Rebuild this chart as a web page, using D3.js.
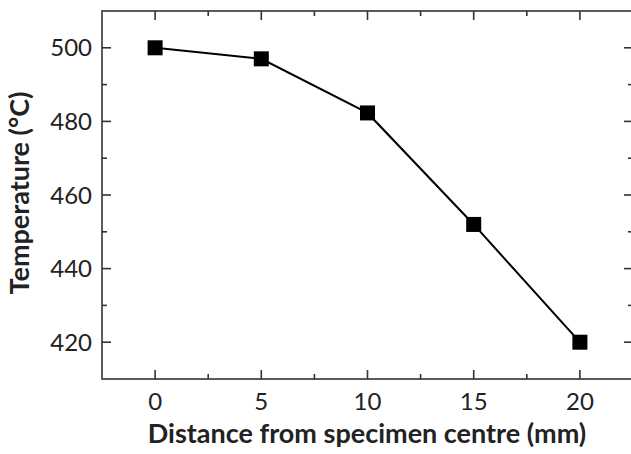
<!DOCTYPE html>
<html>
<head>
<meta charset="utf-8">
<script src="https://cdn.jsdelivr.net/npm/d3@7"></script>
<style>
  body { margin: 0; background: #fff; }
  svg text { font-family: Lato, "Open Sans", sans-serif; fill: #222; }
</style>
</head>
<body>
<svg id="chart" width="631" height="454"></svg>
<script>
// data
const distance = [0, 5, 10, 15, 20];
const temperature = [500, 497, 482.3, 452, 420];
const xTicks = [0, 5, 10, 15, 20];
const yTicks = [420, 440, 460, 480, 500];

const svg = d3.select("#chart");
const mLeft = 102, mRight = 633, mTop = 11, mBottom = 379;

const x = d3.scaleLinear().domain([-2.5, 22.5]).range([mLeft, mRight]);
const y = d3.scaleLinear().domain([410, 510]).range([mBottom, mTop]);

const axisColor = "#333";

// frame
svg.append("rect")
  .attr("x", mLeft).attr("y", mTop)
  .attr("width", mRight - mLeft).attr("height", mBottom - mTop)
  .attr("fill", "none").attr("stroke", axisColor).attr("stroke-width", 1.6);

const xMinor = d3.range(-2.5, 22.6, 2.5).filter(d => !xTicks.includes(d) && d > -2.5 && d < 22.5);
const yMinor = d3.range(410, 511, 10).filter(d => !yTicks.includes(d) && d > 410 && d < 510);

const ticks = svg.append("g").attr("stroke", axisColor).attr("stroke-width", 1.6);
xTicks.forEach(d => {
  ticks.append("line").attr("x1", x(d)).attr("x2", x(d)).attr("y1", mBottom).attr("y2", mBottom - 9);
  ticks.append("line").attr("x1", x(d)).attr("x2", x(d)).attr("y1", mTop).attr("y2", mTop + 9);
});
xMinor.forEach(d => {
  ticks.append("line").attr("x1", x(d)).attr("x2", x(d)).attr("y1", mBottom).attr("y2", mBottom - 5);
  ticks.append("line").attr("x1", x(d)).attr("x2", x(d)).attr("y1", mTop).attr("y2", mTop + 5);
});
yTicks.forEach(d => {
  ticks.append("line").attr("y1", y(d)).attr("y2", y(d)).attr("x1", mLeft).attr("x2", mLeft + 9);
  ticks.append("line").attr("y1", y(d)).attr("y2", y(d)).attr("x1", mRight).attr("x2", mRight - 9);
});
yMinor.forEach(d => {
  ticks.append("line").attr("y1", y(d)).attr("y2", y(d)).attr("x1", mLeft).attr("x2", mLeft + 5);
  ticks.append("line").attr("y1", y(d)).attr("y2", y(d)).attr("x1", mRight).attr("x2", mRight - 5);
});

// tick labels
svg.append("g").selectAll("text").data(xTicks).join("text")
  .attr("x", d => x(d)).attr("y", 410)
  .attr("text-anchor", "middle").attr("font-size", 24)
  .text(d => d);

svg.append("g").selectAll("text").data(yTicks).join("text")
  .attr("x", 92).attr("y", d => y(d) + 8.5)
  .attr("text-anchor", "end").attr("font-size", 24)
  .text(d => d);

// axis titles
svg.append("text")
  .attr("x", 367).attr("y", 443)
  .attr("text-anchor", "middle").attr("font-size", 27).attr("font-weight", "bold")
  .text("Distance from specimen centre (mm)");

svg.append("text")
  .attr("transform", "translate(29,193) rotate(-90)")
  .attr("text-anchor", "middle").attr("font-size", 27).attr("font-weight", "bold")
  .text("Temperature (°C)");

// line + markers
const pts = distance.map((d, i) => [d, temperature[i]]);
svg.append("path")
  .datum(pts)
  .attr("fill", "none").attr("stroke", "#000").attr("stroke-width", 2)
  .attr("d", d3.line().x(d => x(d[0])).y(d => y(d[1])));

svg.append("g").selectAll("rect").data(pts).join("rect")
  .attr("x", d => x(d[0]) - 7.5).attr("y", d => y(d[1]) - 7.5)
  .attr("width", 15).attr("height", 15).attr("fill", "#000");
</script>
</body>
</html>
